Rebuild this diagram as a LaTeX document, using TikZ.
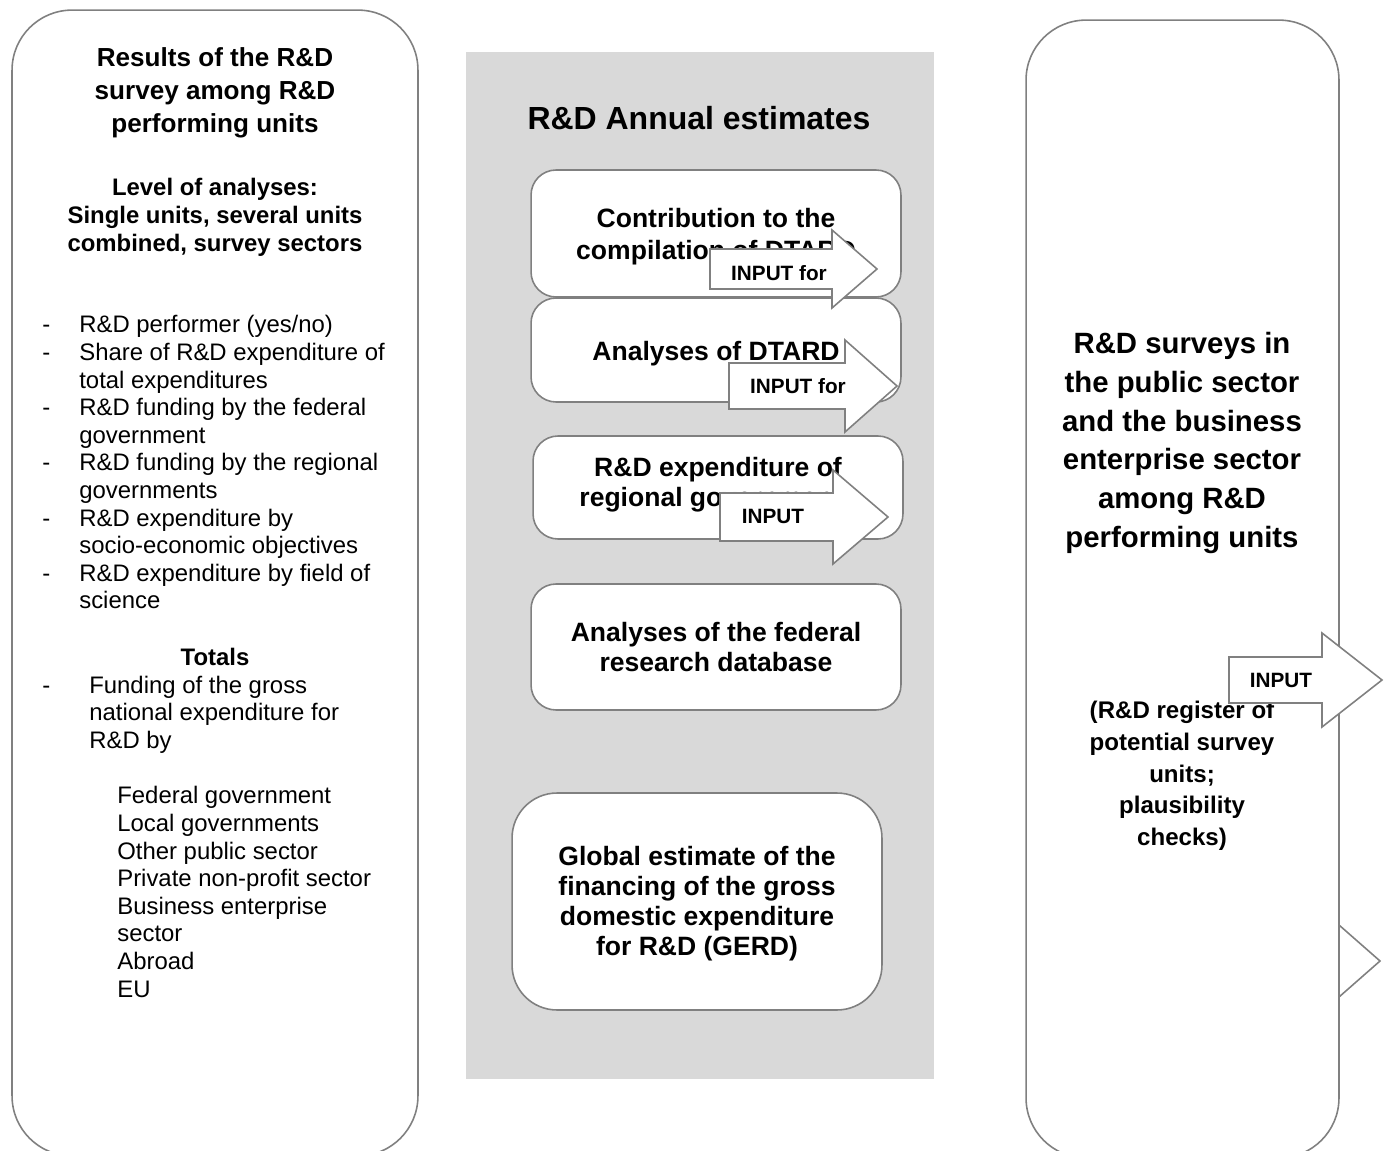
\documentclass[tikz,border=0pt]{standalone}
\usepackage{fontspec}
\setmainfont{Liberation Sans}

\definecolor{framegrey}{HTML}{808080}
\definecolor{panelgrey}{HTML}{D9D9D9}

\newcommand{\lefttitlefont}{\fontsize{14.85pt}{18.8pt}\bfseries\selectfont}
\newcommand{\subheadfont}{\fontsize{13.6pt}{15.9pt}\bfseries\selectfont}
\newcommand{\listfont}{\fontsize{13.6pt}{15.7pt}\selectfont}
\newcommand{\boxfont}{\fontsize{15.1pt}{17.1pt}\bfseries\selectfont}
\newcommand{\righttitlefont}{\fontsize{16.7pt}{22.1pt}\bfseries\selectfont}
\newcommand{\registerfont}{\fontsize{13.7pt}{18pt}\bfseries\selectfont}
\newcommand{\arrowfont}{\fontsize{11.8pt}{14pt}\bfseries\selectfont}

\newcommand{\inputarrow}[6]{%
  \draw[inarrow] (#2,#1-#5) -- (#3,#1-#5) -- (#3,#1-#6) -- (#4,#1)
    -- (#3,#1+#6) -- (#3,#1+#5) -- (#2,#1+#5) -- cycle;}

\tikzset{
  bigbox/.style={draw=framegrey, line width=0.9pt, fill=white,
    rounded corners=1.2cm, inner sep=0pt},
  panel/.style={fill=panelgrey, inner sep=0pt},
  estbox/.style={draw=framegrey, line width=0.9pt, fill=white,
    rounded corners=0.5cm, minimum width=7.4cm, inner sep=0pt},
  boxtext/.style={align=center, inner sep=0pt, font=\boxfont},
  inarrow/.style={draw=framegrey, line width=0.9pt, fill=white,
    line join=miter},
  arrowlabel/.style={font=\arrowfont, inner sep=0pt},
  heading/.style={align=center, inner sep=0pt}
}

\begin{document}
\begin{tikzpicture}[x=0.02cm, y=-0.02cm]
\useasboundingbox (0,0) rectangle (1385,1151);
\clip (0,0) rectangle (1385,1151);

\node[bigbox, minimum width=8.12cm, minimum height=22.92cm] (results) at (215,583) {};
\node[heading, font=\lefttitlefont] (resultstitle) at (215,93)
  {Results of the R\&D\\survey among R\&D\\performing units};
\node[heading, font=\subheadfont] (levels) at (215,217)
  {Level of analyses:\\Single units, several units\\combined, survey sectors};
\node[inner sep=0pt, anchor=base west, font=\listfont] (items) at (42,333) {%
  \begin{tabular}[t]{@{}p{0.74cm}@{}p{6.6cm}@{}}
  - & R\&D performer (yes/no)\\
  - & Share of R\&D expenditure of\newline total expenditures\\
  - & R\&D funding by the federal\newline government\\
  - & R\&D funding by the regional\newline governments\\
  - & R\&D expenditure by\newline socio-economic objectives\\
  - & R\&D expenditure by field of\newline science
  \end{tabular}};
\node[heading, font=\subheadfont] (totals) at (215,657) {Totals};
\node[inner sep=0pt, anchor=base west, font=\listfont] (funding) at (42,693) {%
  \begin{tabular}[t]{@{}p{0.94cm}@{}p{6cm}@{}}
  - & Funding of the gross\newline national expenditure for\newline R\&D by
  \end{tabular}};
\node[inner sep=0pt, anchor=base west, align=left, font=\listfont] (sources) at (117,997)
  {Federal government\\Local governments\\Other public sector\\Private non-profit sector\\Business enterprise\\sector\\Abroad\\EU};

\node[panel, minimum width=9.36cm, minimum height=20.54cm] (panel) at (700,565.5) {};
\node[heading, font=\fontsize{18.2pt}{21pt}\bfseries\selectfont] (annual) at (699,118) {R\&D Annual estimates};

\node[estbox, minimum height=2.54cm] (dtard) at (716,233.5) {};
\node[boxtext, font=\fontsize{15.1pt}{18.2pt}\bfseries\selectfont] (dtardtext) at (716,236.5) {Contribution to the\\compilation of DTARD};
\node[estbox, minimum height=2.08cm] (dtardan) at (716,350) {};
\node[boxtext] (dtardantext) at (716,354) {Analyses of DTARD};
\node[estbox, minimum height=2.06cm] (regional) at (718,487.5) {};
\node[boxtext] (regionaltext) at (718,484.5) {R\&D expenditure of\\regional governments};
\node[estbox, minimum height=2.52cm] (federal) at (716,647) {};
\node[boxtext] (federaltext) at (716,647) {Analyses of the federal\\research database};
\node[estbox, minimum height=4.34cm, rounded corners=0.9cm] (gerd) at (697,901.5) {};
\node[boxtext] (gerdtext) at (697,903.5)
  {Global estimate of the\\financing of the gross\\domestic expenditure\\for R\&D (GERD)};

\inputarrow{269}{710}{832}{877}{20}{39}
\node[arrowlabel] (in1) at (779,273) {INPUT for};
\inputarrow{386}{729}{845}{897}{23}{46}
\node[arrowlabel] (in2) at (798,386) {INPUT for};
\inputarrow{517}{720}{833}{888}{24}{47}
\node[arrowlabel] (in3) at (773,516) {INPUT};

\inputarrow{961}{1290}{1339}{1380}{18}{36}
\node[bigbox, minimum width=6.26cm, minimum height=22.76cm] (surveys) at (1182.5,589) {};
\node[heading, font=\righttitlefont] (surveystitle) at (1182,443)
  {R\&D surveys in\\the public sector\\and the business\\enterprise sector\\among R\&D\\performing units};
\node[heading, font=\registerfont] (register) at (1182,776)
  {(R\&D register of\\potential survey\\units;\\plausibility\\checks)};
\inputarrow{680}{1229}{1322}{1382}{23}{47}
\node[arrowlabel] (in4) at (1281,680) {INPUT};
\end{tikzpicture}
\end{document}
